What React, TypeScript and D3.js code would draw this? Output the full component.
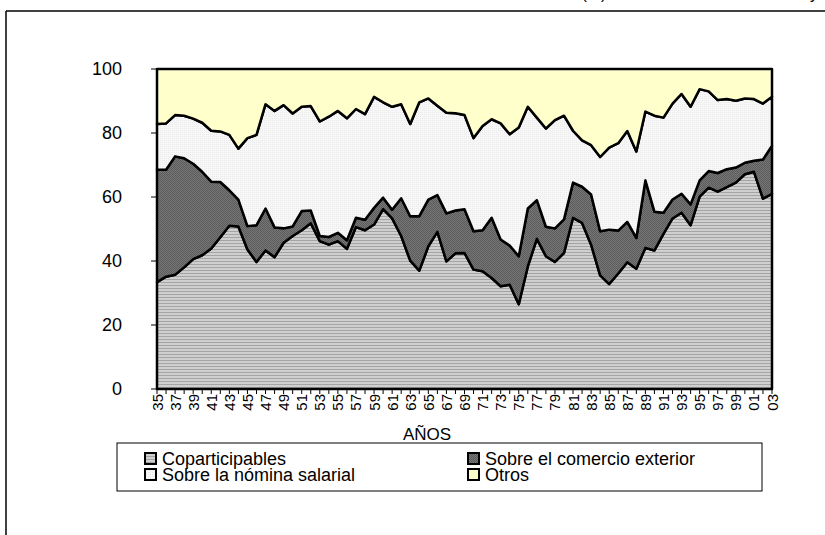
import React from 'react';
import * as d3 from 'd3';

// años 1935-2003
const years = d3.range(1935, 2004);

// participación de cada grupo de impuestos en el total (%)
const coparticipables = [
  33.4, 35.1, 35.7, 38.0, 40.6, 41.8, 43.9, 47.4, 51.0, 50.8,
  43.6, 39.7, 43.3, 41.2, 45.7, 47.8, 49.6, 51.8, 46.2, 45.1,
  46.2, 43.8, 50.6, 49.6, 51.4, 56.2, 53.3, 47.8, 40.1, 37.0,
  44.6, 49.1, 39.9, 42.4, 42.5, 37.3, 36.8, 34.7, 32.1, 32.6,
  26.5, 38.3, 46.9, 41.5, 39.7, 42.5, 53.5, 51.9, 45.1, 35.5,
  32.8, 36.1, 39.6, 37.6, 44.1, 43.3, 48.5, 53.3, 55.1, 51.2,
  60.1, 62.9, 61.7, 63.1, 64.5, 67.1, 67.9, 59.5, 61.0,
];
const comercioExterior = [
  35.1, 33.4, 37.0, 34.1, 29.8, 26.1, 20.9, 17.3, 11.1, 8.4,
  7.3, 11.5, 13.1, 9.3, 4.5, 3.0, 6.0, 4.0, 1.6, 2.4,
  2.6, 2.7, 2.9, 3.3, 5.2, 3.6, 2.7, 11.8, 13.9, 17.0,
  14.6, 11.5, 15.0, 13.4, 13.7, 12.0, 12.8, 18.8, 14.6, 12.2,
  15.0, 18.1, 12.1, 9.2, 10.5, 10.5, 11.0, 11.3, 15.7, 13.8,
  17.0, 13.4, 12.6, 9.6, 21.1, 12.1, 6.6, 5.9, 5.9, 6.5,
  5.1, 5.2, 5.8, 5.6, 4.7, 3.6, 3.4, 12.2, 15.0,
];
const nominaSalarial = [
  14.3, 14.5, 12.9, 13.3, 14.1, 15.3, 15.9, 15.8, 17.3, 15.9,
  27.5, 28.2, 32.6, 36.4, 38.5, 35.3, 32.6, 32.6, 35.8, 37.6,
  38.1, 38.1, 34.0, 33.0, 34.7, 29.8, 32.2, 29.4, 28.8, 35.6,
  31.6, 27.9, 31.4, 30.4, 29.4, 29.1, 32.6, 30.8, 36.3, 34.8,
  40.2, 31.8, 25.8, 30.7, 33.8, 32.4, 16.2, 14.5, 15.4, 23.2,
  25.6, 27.3, 28.4, 27.0, 21.5, 30.0, 29.7, 30.0, 31.2, 30.5,
  28.5, 24.9, 22.8, 21.9, 20.9, 20.1, 19.3, 17.5, 15.3,
];
const otros = [
  17.2, 17.0, 14.4, 14.6, 15.5, 16.8, 19.3, 19.5, 20.6, 24.9,
  21.6, 20.6, 11.0, 13.1, 11.3, 13.9, 11.8, 11.6, 16.4, 14.9,
  13.1, 15.4, 12.5, 14.1, 8.7, 10.4, 11.8, 11.0, 17.2, 10.4,
  9.2, 11.5, 13.7, 13.8, 14.4, 21.6, 17.8, 15.7, 17.0, 20.4,
  18.3, 11.8, 15.2, 18.6, 16.0, 14.6, 19.3, 22.3, 23.8, 27.5,
  24.6, 23.2, 19.4, 25.8, 13.3, 14.6, 15.2, 10.8, 7.8, 11.8,
  6.3, 7.0, 9.7, 9.4, 9.9, 9.2, 9.4, 10.8, 8.7,
];

const seriesNames = ['Coparticipables', 'Sobre el comercio exterior', 'Sobre la nómina salarial', 'Otros'];
const seriesKeys = ['cop', 'com', 'nom', 'otr'];
const yTicks = [0, 20, 40, 60, 80, 100];

const font = 'Arial, "Liberation Sans", sans-serif';

export default function App() {
  const width = 825;
  const height = 535;
  const left = 157;
  const right = 772;
  const top = 69;
  const bottom = 389;

  const rows = years.map((yr, i) => ({
    year: yr,
    cop: coparticipables[i],
    com: comercioExterior[i],
    nom: nominaSalarial[i],
    otr: otros[i],
  }));

  const x = d3.scalePoint<number>().domain(years).range([left, right]).padding(0);
  const y = d3.scaleLinear().domain([0, 100]).range([bottom, top]);

  const stack = d3.stack<any>().keys(seriesKeys);
  const layers = stack(rows);

  const area = d3
    .area<d3.SeriesPoint<any>>()
    .x(d => x(d.data.year) as number)
    .y0(d => y(d[0]))
    .y1(d => y(Math.min(100, d[1])));

  const fills = ['url(#patCop)', 'url(#patCom)', 'url(#patNom)', '#ffffcc'];

  const label = (yr: number) => String(yr % 100).padStart(2, '0');

  // legend layout
  const legendItems = [
    { name: seriesNames[0], fill: fills[0], x: 145, y: 453 },
    { name: seriesNames[1], fill: fills[1], x: 468, y: 453 },
    { name: seriesNames[2], fill: fills[2], x: 145, y: 469 },
    { name: seriesNames[3], fill: fills[3], x: 468, y: 469 },
  ];

  return (
    <svg width={width} height={height} style={{ position: 'absolute', left: 0, top: 0, background: '#fff' }}>
      <defs>
        <pattern id="patCop" width="4" height="3" patternUnits="userSpaceOnUse">
          <rect width="4" height="3" fill="#cfcfcf" />
          <rect width="4" height="1" fill="#a4a4a4" />
        </pattern>
        <pattern id="patCom" width="2" height="2" patternUnits="userSpaceOnUse">
          <rect width="2" height="2" fill="#767676" />
          <rect width="1" height="1" fill="#5c5c5c" />
          <rect x="1" y="1" width="1" height="1" fill="#5c5c5c" />
        </pattern>
        <pattern id="patNom" width="2" height="2" patternUnits="userSpaceOnUse">
          <rect width="2" height="2" fill="#f7f7f7" />
          <rect width="1" height="1" fill="#ebebeb" />
        </pattern>
      </defs>

      {/* marco exterior */}
      <line x1={6} y1={11} x2={825} y2={11} stroke="#000" strokeWidth={1.5} />
      <line x1={6} y1={11} x2={6} y2={535} stroke="#000" strokeWidth={1.5} />
      <text x={818} y={-1} textAnchor="end" fontFamily={font} fontSize={16}>
        (%) Recaudación tributaria total y
      </text>

      {/* areas */}
      {layers.map((layer, i) => (
        <path
          key={layer.key}
          d={area(layer) as string}
          fill={fills[i]}
          stroke="#000"
          strokeWidth={2.5}
          strokeLinejoin="round"
        />
      ))}

      {/* eje Y */}
      <line x1={left} y1={top} x2={left} y2={bottom} stroke="#000" strokeWidth={1} />
      {yTicks.map(t => (
        <g key={t}>
          <line x1={left - 6} x2={left} y1={y(t)} y2={y(t)} stroke="#000" />
          <text
            x={122}
            y={y(t)}
            textAnchor="end"
            dominantBaseline="central"
            fontFamily={font}
            fontSize={18}
          >
            {t}
          </text>
        </g>
      ))}

      {/* eje X */}
      <line x1={left} y1={bottom} x2={right} y2={bottom} stroke="#000" strokeWidth={1} />
      {years.map((yr, i) => (
        <g key={yr}>
          <line x1={x(yr)} x2={x(yr)} y1={bottom} y2={bottom + 5} stroke="#000" />
          {i % 2 === 0 && (
            <text
              transform={`translate(${x(yr)},${bottom + 5}) rotate(-90)`}
              textAnchor="end"
              dominantBaseline="central"
              fontFamily={font}
              fontSize={15}
            >
              {label(yr)}
            </text>
          )}
        </g>
      ))}
      <text x={427} y={440} textAnchor="middle" fontFamily={font} fontSize={17}>
        AÑOS
      </text>

      {/* leyenda */}
      <rect x={117} y={443} width={645} height={48} fill="#fff" stroke="#000" strokeWidth={1} />
      {legendItems.map(it => (
        <g key={it.name}>
          <rect x={it.x} y={it.y} width={11} height={11} fill={it.fill} stroke="#000" strokeWidth={2} />
          <text x={it.x + 17} y={it.y + 12} fontFamily={font} fontSize={18}>
            {it.name}
          </text>
        </g>
      ))}
    </svg>
  );
}
